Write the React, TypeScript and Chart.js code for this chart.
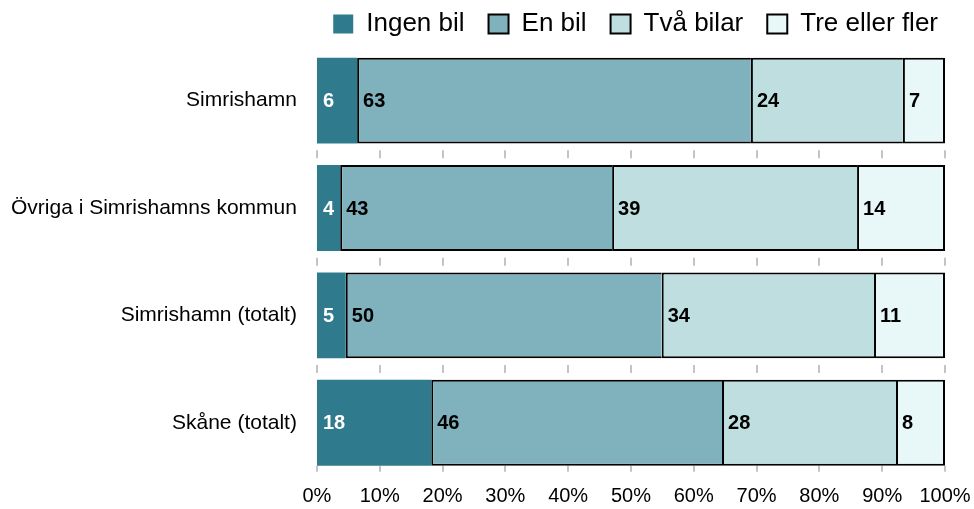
import React, { useEffect, useRef } from "react";
import { Chart, registerables } from "chart.js";

Chart.register(...registerables);

const categories = ["Simrishamn", "Övriga i Simrishamns kommun", "Simrishamn (totalt)", "Skåne (totalt)"];
const seriesNames = ["Ingen bil", "En bil", "Två bilar", "Tre eller fler"];
const ingenBil = [6.4, 3.7, 4.6, 18.2];
const enBil = [62.7, 43.3, 50.3, 46.3];
const tvaBilar = [24.2, 39.0, 33.8, 27.7];
const treEllerFler = [6.7, 14.0, 11.3, 7.8];
const xTicks = [0, 10, 20, 30, 40, 50, 60, 70, 80, 90, 100];

const colors = ["#2F7A8C", "#7FB2BC", "#BFDEE0", "#E8F8F8"];
const borders = [
  0,
  { top: 2, bottom: 2, left: 2, right: 0 },
  { top: 2, bottom: 2, left: 2, right: 0 },
  { top: 2, bottom: 2, left: 2, right: 2 },
];
const FONT = "'Liberation Sans', Arial, sans-serif";

const gapTicks = {
  id: "gapTicks",
  beforeDatasetsDraw(chart: any) {
    const { ctx, chartArea } = chart;
    const meta = chart.getDatasetMeta(0);
    const xs = chart.scales.x;
    const els = meta.data as any[];
    if (!els.length) return;
    const segs: [number, number][] = [];
    for (let i = 0; i < els.length - 1; i++) {
      const b = els[i].y + els[i].height / 2;
      const t = els[i + 1].y - els[i + 1].height / 2;
      const m = (b + t) / 2;
      segs.push([m - 4, m + 4]);
    }
    const last = els[els.length - 1];
    const lb = last.y + last.height / 2;
    segs.push([lb, Math.min(lb + 6, chartArea.bottom)]);
    ctx.save();
    ctx.strokeStyle = "#C4C4C4";
    ctx.lineWidth = 2;
    xTicks.forEach((v) => {
      const x = Math.round(xs.getPixelForValue(v));
      segs.forEach(([a, b]) => {
        ctx.beginPath();
        ctx.moveTo(x, a);
        ctx.lineTo(x, b);
        ctx.stroke();
      });
    });
    ctx.restore();
  },
};

const valueLabels = {
  id: "valueLabels",
  afterDatasetsDraw(chart: any) {
    const { ctx } = chart;
    ctx.save();
    ctx.font = `bold 20px ${FONT}`;
    ctx.textBaseline = "middle";
    ctx.textAlign = "left";
    chart.data.datasets.forEach((ds: any, di: number) => {
      const meta = chart.getDatasetMeta(di);
      meta.data.forEach((el: any, i: number) => {
        const left = Math.min(el.x, el.base);
        ctx.fillStyle = di === 0 ? "#FFFFFF" : "#000000";
        ctx.fillText(String(Math.round(ds.data[i])), left + 6, el.y + 1);
      });
    });
    ctx.restore();
  },
};

export default function App() {
  const ref = useRef<HTMLCanvasElement | null>(null);
  useEffect(() => {
    document.body.style.margin = "0";
    const seriesData = [ingenBil, enBil, tvaBilar, treEllerFler];
    const chart = new Chart(ref.current as HTMLCanvasElement, {
      type: "bar",
      data: {
        labels: categories,
        datasets: seriesNames.map((name, i) => ({
          label: name,
          data: seriesData[i],
          backgroundColor: colors[i],
          borderColor: i === 0 ? colors[0] : "#000000",
          borderWidth: borders[i] as any,
          borderSkipped: false,
          categoryPercentage: 1,
          barPercentage: 0.8,
        })),
      },
      options: {
        indexAxis: "y",
        animation: false,
        responsive: false,
        maintainAspectRatio: false,
        layout: { padding: { top: -13, left: -9, right: 12, bottom: -9 } },
        plugins: {
          tooltip: { enabled: false },
          legend: {
            position: "top",
            align: "end",
            labels: {
              font: { family: FONT, size: 26 },
              color: "#000000",
              boxWidth: 20,
              boxHeight: 19,
              padding: 24,
              generateLabels: (chart: any) =>
                chart.data.datasets.map((ds: any, i: number) => ({
                  text: ds.label,
                  fillStyle: colors[i],
                  strokeStyle: i === 0 ? colors[0] : "#000000",
                  lineWidth: i === 0 ? 0 : 2,
                  hidden: false,
                  datasetIndex: i,
                  fontColor: "#000000",
                })),
            },
          },
        },
        scales: {
          x: {
            stacked: true,
            min: 0,
            max: 100,
            grid: { display: false, drawTicks: false },
            border: { display: false },
            afterBuildTicks: (axis: any) => {
              axis.ticks = xTicks.map((v) => ({ value: v }));
            },
            afterFit: (axis: any) => {
              axis.paddingLeft = 0;
              axis.paddingRight = 29;
            },
            ticks: {
              padding: 8,
              color: "#000000",
              font: { family: FONT, size: 20 },
              maxRotation: 0,
              autoSkip: false,
              callback: (v: any) => `${v}%`,
            },
          },
          y: {
            stacked: true,
            grid: { display: false, drawTicks: false },
            border: { display: false },
            ticks: {
              padding: 20,
              color: "#000000",
              font: { family: FONT, size: 21 },
            },
          },
        },
      },
      plugins: [gapTicks, valueLabels],
    });
    return () => chart.destroy();
  }, []);
  return (
    <div style={{ width: 974, height: 509, position: "relative" }}>
      <canvas ref={ref} width={974} height={509} />
    </div>
  );
}
